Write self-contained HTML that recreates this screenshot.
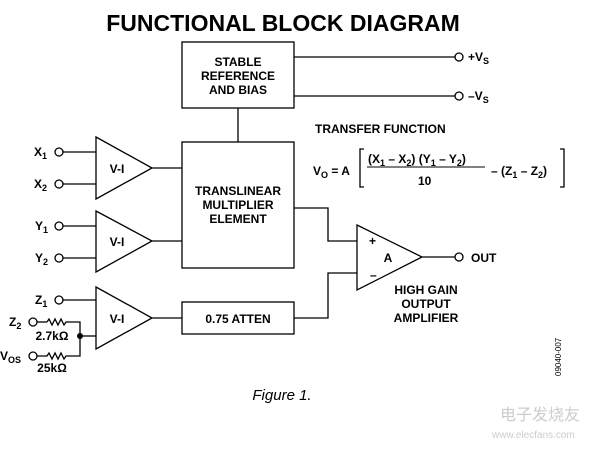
<!DOCTYPE html>
<html><head><style>body{margin:0;background:#fff}svg{display:block}</style></head><body>
<svg width="602" height="450" viewBox="0 0 602 450" font-family="Liberation Sans, Arial, sans-serif" font-weight="bold" fill="#000">
<text x="283" y="31" font-size="23" text-anchor="middle" font-weight="900">FUNCTIONAL BLOCK DIAGRAM</text>
<g fill="none" stroke="#000" stroke-width="1.3">
<rect x="182" y="42" width="112" height="66"/>
<rect x="182" y="142" width="112" height="126"/>
<rect x="182" y="302" width="112" height="32"/>
<line x1="294" y1="57" x2="455" y2="57"/><line x1="294" y1="96" x2="455" y2="96"/>
<circle cx="459" cy="57" r="4"/><circle cx="459" cy="96" r="4"/>
<line x1="238" y1="108" x2="238" y2="142"/>
<polygon points="96,137 152,168 96,199"/>
<polygon points="96,211 152,241 96,272"/>
<polygon points="96,287 152,318 96,349"/>
<line x1="152" y1="168" x2="182" y2="168"/><line x1="152" y1="241" x2="182" y2="241"/><line x1="152" y1="318" x2="182" y2="318"/>
<circle cx="59" cy="152" r="4"/><line x1="63" y1="152" x2="96" y2="152"/>
<circle cx="59" cy="184" r="4"/><line x1="63" y1="184" x2="96" y2="184"/>
<circle cx="59" cy="226" r="4"/><line x1="63" y1="226" x2="96" y2="226"/>
<circle cx="59" cy="258" r="4"/><line x1="63" y1="258" x2="96" y2="258"/>
<circle cx="59" cy="300" r="4"/><line x1="63" y1="300" x2="96" y2="300"/>
<circle cx="33" cy="322" r="4"/><line x1="37" y1="322" x2="47" y2="322"/>
<polyline points="47,322 49,319 52,325 55,319 58,325 61,319 64,325 66,322 80,322 80,356 66,356 64,359 61,353 58,359 55,353 52,359 49,353 47,356 37,356"/>
<circle cx="33" cy="356" r="4"/>
<line x1="80" y1="336" x2="96" y2="336"/>
<polygon points="357,225 422,257 357,290"/>
<polyline points="294,208 328,208 328,241 357,241"/>
<polyline points="294,318 328,318 328,273 357,273"/>
<line x1="422" y1="257" x2="455" y2="257"/><circle cx="459" cy="257" r="4"/>
<path d="M364,149 h-4 v38 h4 M560,149 h4 v38 h-4"/>
<line x1="367" y1="167" x2="485" y2="167" stroke-width="1"/>
</g>
<circle cx="80" cy="336" r="3"/>
<g font-size="12" text-anchor="middle">
<text x="238" y="66">STABLE</text><text x="238" y="80">REFERENCE</text><text x="238" y="94">AND BIAS</text>
<text x="238" y="195">TRANSLINEAR</text><text x="238" y="209">MULTIPLIER</text><text x="238" y="223">ELEMENT</text>
<text x="238" y="323">0.75 ATTEN</text>
<text x="117" y="173">V-I</text><text x="117" y="246">V-I</text><text x="117" y="323">V-I</text>
<text x="388" y="262">A</text>
<text x="426" y="294">HIGH GAIN</text><text x="426" y="308">OUTPUT</text><text x="426" y="322">AMPLIFIER</text>
<text x="52" y="340">2.7kΩ</text><text x="52" y="372">25kΩ</text>
<text x="282" y="400" font-weight="normal" font-style="italic" font-size="15">Figure 1.</text>
</g>
<g font-size="12">
<text x="468" y="61">+V<tspan font-size="9" dy="3">S</tspan></text>
<text x="468" y="100">–V<tspan font-size="9" dy="3">S</tspan></text>
<text x="471" y="262">OUT</text>
<text x="369" y="245">+</text><text x="370" y="279">–</text>
<text x="34" y="156">X<tspan font-size="9" dy="3">1</tspan></text>
<text x="34" y="188">X<tspan font-size="9" dy="3">2</tspan></text>
<text x="35" y="230">Y<tspan font-size="9" dy="3">1</tspan></text>
<text x="35" y="262">Y<tspan font-size="9" dy="3">2</tspan></text>
<text x="35" y="304">Z<tspan font-size="9" dy="3">1</tspan></text>
<text x="9" y="326">Z<tspan font-size="9" dy="3">2</tspan></text>
<text x="0" y="360">V<tspan font-size="9" dy="3">OS</tspan></text>
<text x="315" y="133">TRANSFER FUNCTION</text>
<text x="313" y="175">V<tspan font-size="9" dy="3">O</tspan><tspan dy="-3"> = A</tspan></text>
<text x="368" y="163">(X<tspan font-size="9" dy="3">1</tspan><tspan dy="-3"> – X</tspan><tspan font-size="9" dy="3">2</tspan><tspan dy="-3">) (Y</tspan><tspan font-size="9" dy="3">1</tspan><tspan dy="-3"> – Y</tspan><tspan font-size="9" dy="3">2</tspan><tspan dy="-3">)</tspan></text>
<text x="418" y="185">10</text>
<text x="491" y="175">– (Z<tspan font-size="9" dy="3">1</tspan><tspan dy="-3"> – Z</tspan><tspan font-size="9" dy="3">2</tspan><tspan dy="-3">)</tspan></text>
</g>
<text transform="translate(561,376) rotate(-90)" font-size="8" font-weight="normal">09040-007</text>
<text x="500" y="420" font-size="16" fill="#ccc" font-weight="normal">电子发烧友</text>
<text x="492" y="438" font-size="10" fill="#ccc" font-weight="normal">www.elecfans.com</text>
</svg>
</body></html>
